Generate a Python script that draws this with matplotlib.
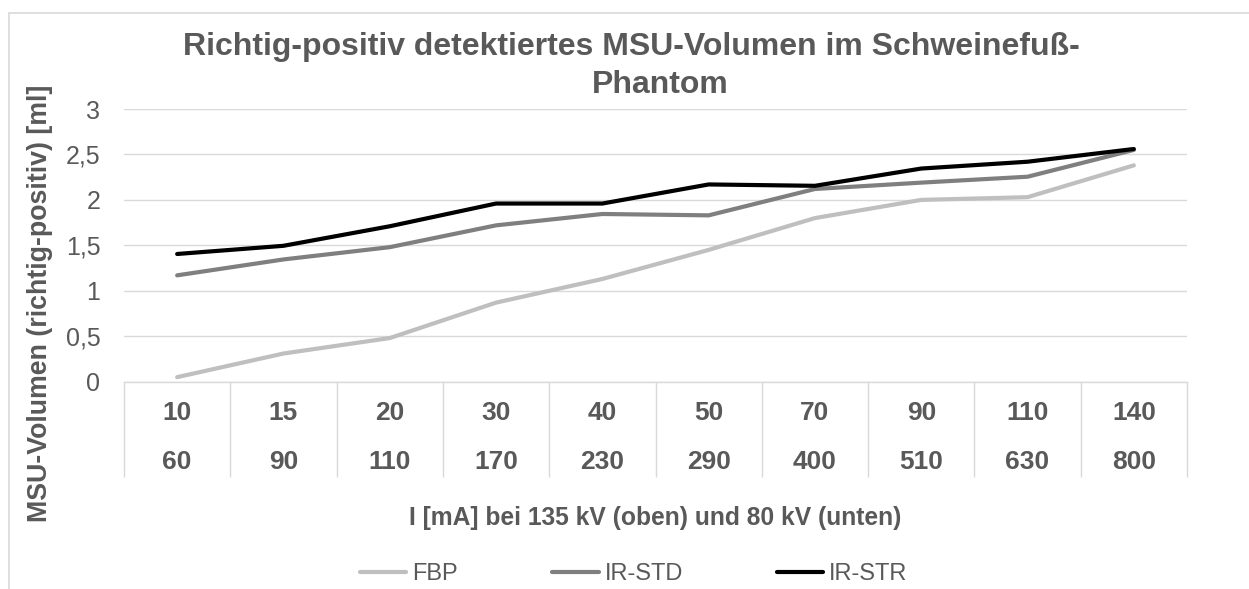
import matplotlib.pyplot as plt
import numpy as np
from matplotlib.lines import Line2D
from matplotlib.patches import Rectangle
from matplotlib.ticker import FuncFormatter

# current in mA at 135 kV (top row) and 80 kV (bottom row)
ma_135kv = ["10", "15", "20", "30", "40", "50", "70", "90", "110", "140"]
ma_80kv = ["60", "90", "110", "170", "230", "290", "400", "510", "630", "800"]

# true-positive MSU volume [ml]
fbp = [0.05, 0.31, 0.48, 0.87, 1.13, 1.45, 1.80, 2.00, 2.03, 2.38]
ir_std = [1.17, 1.345, 1.48, 1.72, 1.845, 1.83, 2.12, 2.19, 2.255, 2.55]
ir_str = [1.405, 1.495, 1.71, 1.96, 1.96, 2.17, 2.155, 2.345, 2.42, 2.56]

series_names = ["FBP", "IR-STD", "IR-STR"]
series_colors = ["#BFBFBF", "#7F7F7F", "#000000"]

plt.rcParams["font.family"] = ["Liberation Sans", "DejaVu Sans"]
text_color = "#595959"
grid_color = "#D9D9D9"

W, H = 1249, 589
fig = plt.figure(figsize=(W / 100, H / 100), dpi=100)

# plot area in pixels: x 124..1187, y 109..381.7
x0, x1, y_top, y_bot = 124, 1187, 109, 381.7
ax = fig.add_axes([x0 / W, 1 - y_bot / H, (x1 - x0) / W, (y_bot - y_top) / H])

# outer chart border (right/bottom run off the picture)
fig.patches.append(Rectangle((9 / W, -0.1), 2, 1.1 - 13 / H, transform=fig.transFigure,
                             fill=False, edgecolor=grid_color, linewidth=1.2))

x = np.arange(len(ma_135kv))
for vals, name, col in zip([fbp, ir_std, ir_str], series_names, series_colors):
    ax.plot(x, vals, color=col, linewidth=3, solid_capstyle="round",
            solid_joinstyle="round", label=name, zorder=3)

ax.set_xlim(-0.5, len(x) - 0.5)
ax.set_ylim(0, 3)
ax.set_yticks(np.arange(0, 3.01, 0.5))
ax.yaxis.set_major_formatter(FuncFormatter(lambda v, p: f"{v:g}".replace(".", ",")))
ax.set_xticks([])
ax.tick_params(axis="y", length=0, pad=17, labelsize=18, labelcolor=text_color)
ax.grid(axis="y", color=grid_color, linewidth=1)
ax.set_axisbelow(True)
for side in ["top", "right", "left"]:
    ax.spines[side].set_visible(False)
ax.spines["bottom"].set_color(grid_color)
ax.spines["bottom"].set_linewidth(1)

# category table below the axis
ph = y_bot - y_top
tr = ax.get_xaxis_transform()
ax.vlines(np.arange(len(x) + 1) - 0.5, -(476.7 - y_bot) / ph, 0, transform=tr,
          colors=grid_color, linewidth=1, clip_on=False)
for i, (top, bot) in enumerate(zip(ma_135kv, ma_80kv)):
    ax.text(i, -(413.3 - y_bot) / ph, top, transform=tr, ha="center", va="center",
            fontsize=19, fontweight="bold", color=text_color)
    ax.text(i, -(461.7 - y_bot) / ph, bot, transform=tr, ha="center", va="center",
            fontsize=19, fontweight="bold", color=text_color)

fig.text(40 / W, 1 - 303.5 / H, "MSU-Volumen (richtig-positiv) [ml]", rotation=90,
         ha="center", va="center", fontsize=19.3, fontweight="bold", color=text_color)
fig.text(655.5 / W, 1 - 517.5 / H, "I [mA] bei 135 kV (oben) und 80 kV (unten)",
         ha="center", va="center", fontsize=17.7, fontweight="bold", color=text_color)

fig.text(631 / W, 1 - 55 / H, "Richtig-positiv detektiertes MSU-Volumen im Schweinefuß-",
         ha="center", va="baseline", fontsize=23, fontweight="bold", color=text_color)
fig.text(660 / W, 1 - 93.3 / H, "Phantom",
         ha="center", va="baseline", fontsize=23, fontweight="bold", color=text_color)

handles = [Line2D([], [], color=c, linewidth=3, solid_capstyle="round") for c in series_colors]
fig.legend(handles, series_names, loc="center", bbox_to_anchor=(634 / W, 1 - 574 / H),
           ncol=3, frameon=False, fontsize=17, labelcolor=text_color,
           handlelength=1.95, handletextpad=0.25, columnspacing=4.0)

fig.savefig("out.png", dpi=100)
